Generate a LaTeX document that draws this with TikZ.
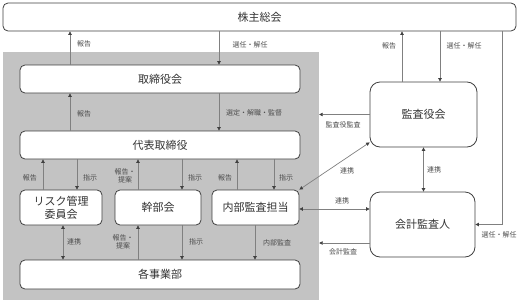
\documentclass[tikz,border=0pt]{standalone}
\usepackage{fontspec}
\newfontfamily\jpfont{Noto Sans CJK JP}
\usetikzlibrary{arrows.meta}
\definecolor{areagray}{HTML}{C3C3C3}
\definecolor{linegray}{HTML}{808080}
\definecolor{boxline}{HTML}{404040}
\begin{document}
\begin{tikzpicture}[x=1pt,y=-1pt,
  box/.style={draw=boxline,fill=white,rounded corners=5pt,line width=0.8pt,
    font=\jpfont\fontsize{11}{13}\selectfont,text=black!80,align=center,inner sep=0pt},
  lbl/.style={font=\jpfont\fontsize{7}{8.5}\selectfont,text=black!70,
    align=center,inner sep=0pt},
  tip/.style={Triangle[length=3.5pt,width=3.5pt,color=black!75]},
  arr/.style={draw=linegray,line width=0.7pt,-{Triangle[length=3.5pt,width=3.5pt,color=black!75]}},
  biarr/.style={draw=linegray,line width=0.7pt,
    {Triangle[length=3.5pt,width=3.5pt,color=black!75]}-{Triangle[length=3.5pt,width=3.5pt,color=black!75]}}]
\useasboundingbox (0,0) rectangle (522,303);
% executive area
\node[fill=areagray,minimum width=316pt,minimum height=248pt,inner sep=0pt] (area) at (161,176) {};
% boxes
\node[box,minimum width=513pt,minimum height=28pt] (sh) at (259.5,17) {株主総会};
\node[box,minimum width=280pt,minimum height=28pt] (tb) at (160,79) {取締役会};
\node[box,minimum width=280pt,minimum height=28pt] (dr) at (160,145) {代表取締役};
\node[box,minimum width=82pt,minimum height=35pt] (risk) at (61,207.5) {リスク管理\\委員会};
\node[box,minimum width=86pt,minimum height=35pt] (kanbu) at (158,207.5) {幹部会};
\node[box,minimum width=87pt,minimum height=35pt] (naibu) at (255.5,207.5) {内部監査担当};
\node[box,minimum width=280pt,minimum height=29pt] (jigyo) at (160,274.5) {各事業部};
\node[box,minimum width=107pt,minimum height=65pt,rounded corners=10pt] (kansa) at (423.5,114.5) {監査役会};
\node[box,minimum width=105pt,minimum height=65pt,rounded corners=10pt] (kaikei) at (422.5,224.5) {会計監査人};
% line positions
\coordinate (x1) at (70,0);
\coordinate (x2) at (219,0);
\coordinate (x3) at (402,0);
\coordinate (x4) at (440,0);
\coordinate (x5) at (502,0);
\coordinate (r1) at (43,0);
\coordinate (r2) at (77,0);
\coordinate (r3) at (138,0);
\coordinate (r4) at (182,0);
\coordinate (r5) at (237,0);
\coordinate (r6) at (274,0);
\coordinate (s1) at (63,0);
\coordinate (s4) at (255,0);
\coordinate (ya) at (0,243);
% connectors
\draw[arr] (x1 |- tb.north) -- (x1 |- sh.south);
\draw[arr] (x2 |- sh.south) -- (x2 |- tb.north);
\draw[arr] (x3 |- kansa.north) -- (x3 |- sh.south);
\draw[arr] (x4 |- sh.south) -- (x4 |- kansa.north);
\draw[arr] (x5 |- sh.south) |- (kaikei.east);
\draw[arr] (x1 |- dr.north) -- (x1 |- tb.south);
\draw[arr] (x2 |- tb.south) -- (x2 |- dr.north);
\draw[arr] (kansa.west) -- (kansa.west -| area.east);
\draw[biarr] ([yshift=5pt]kansa.south west) -- (naibu.north east);
\draw[biarr] (kansa.south) -- (kansa.south |- kaikei.north);
\draw[biarr] ([yshift=-1.5pt]naibu.east) -- ([yshift=-1.5pt]naibu.east -| kaikei.west);
\draw[arr] (kaikei.west |- ya) -- (area.east |- ya);
\draw[arr] (r1 |- risk.north) -- (r1 |- dr.south);
\draw[arr] (r2 |- dr.south) -- (r2 |- risk.north);
\draw[arr] (r3 |- kanbu.north) -- (r3 |- dr.south);
\draw[arr] (r4 |- dr.south) -- (r4 |- kanbu.north);
\draw[arr] (r5 |- naibu.north) -- (r5 |- dr.south);
\draw[arr] (r6 |- dr.south) -- (r6 |- naibu.north);
\draw[biarr] (s1 |- risk.south) -- (s1 |- jigyo.north);
\draw[arr] (r3 |- jigyo.north) -- (r3 |- kanbu.south);
\draw[arr] (r4 |- kanbu.south) -- (r4 |- jigyo.north);
\draw[arr] (s4 |- naibu.south) -- (s4 |- jigyo.north);
% labels
\node[lbl] (l1) at (84,44) {報告};
\node[lbl] (l2) at (250,45) {選任・解任};
\node[lbl] (l3) at (389,46) {報告};
\node[lbl] (l4) at (464,46) {選任・解任};
\node[lbl] (l5) at (84,114) {報告};
\node[lbl] (l6) at (254,113) {選定・解職・監督};
\node[lbl] (l7) at (343,125) {監査役監査};
\node[lbl] (l8) at (347,171) {連携};
\node[lbl] (l9) at (434,170) {連携};
\node[lbl] (l10) at (30,178) {報告};
\node[lbl] (l11) at (90,178) {指示};
\node[lbl] (l12) at (125,176) {報告・\\提案};
\node[lbl] (l13) at (195,178) {指示};
\node[lbl] (l14) at (225,178) {報告};
\node[lbl] (l15) at (286,178) {指示};
\node[lbl] (l16) at (342,201) {連携};
\node[lbl] (l17) at (74,242) {連携};
\node[lbl] (l18) at (123,242) {報告・\\提案};
\node[lbl] (l19) at (196,242) {指示};
\node[lbl] (l20) at (277,243) {内部監査};
\node[lbl] (l21) at (343,252) {会計監査};
\node[lbl] (l22) at (499,235) {選任・解任};
\end{tikzpicture}
\end{document}
